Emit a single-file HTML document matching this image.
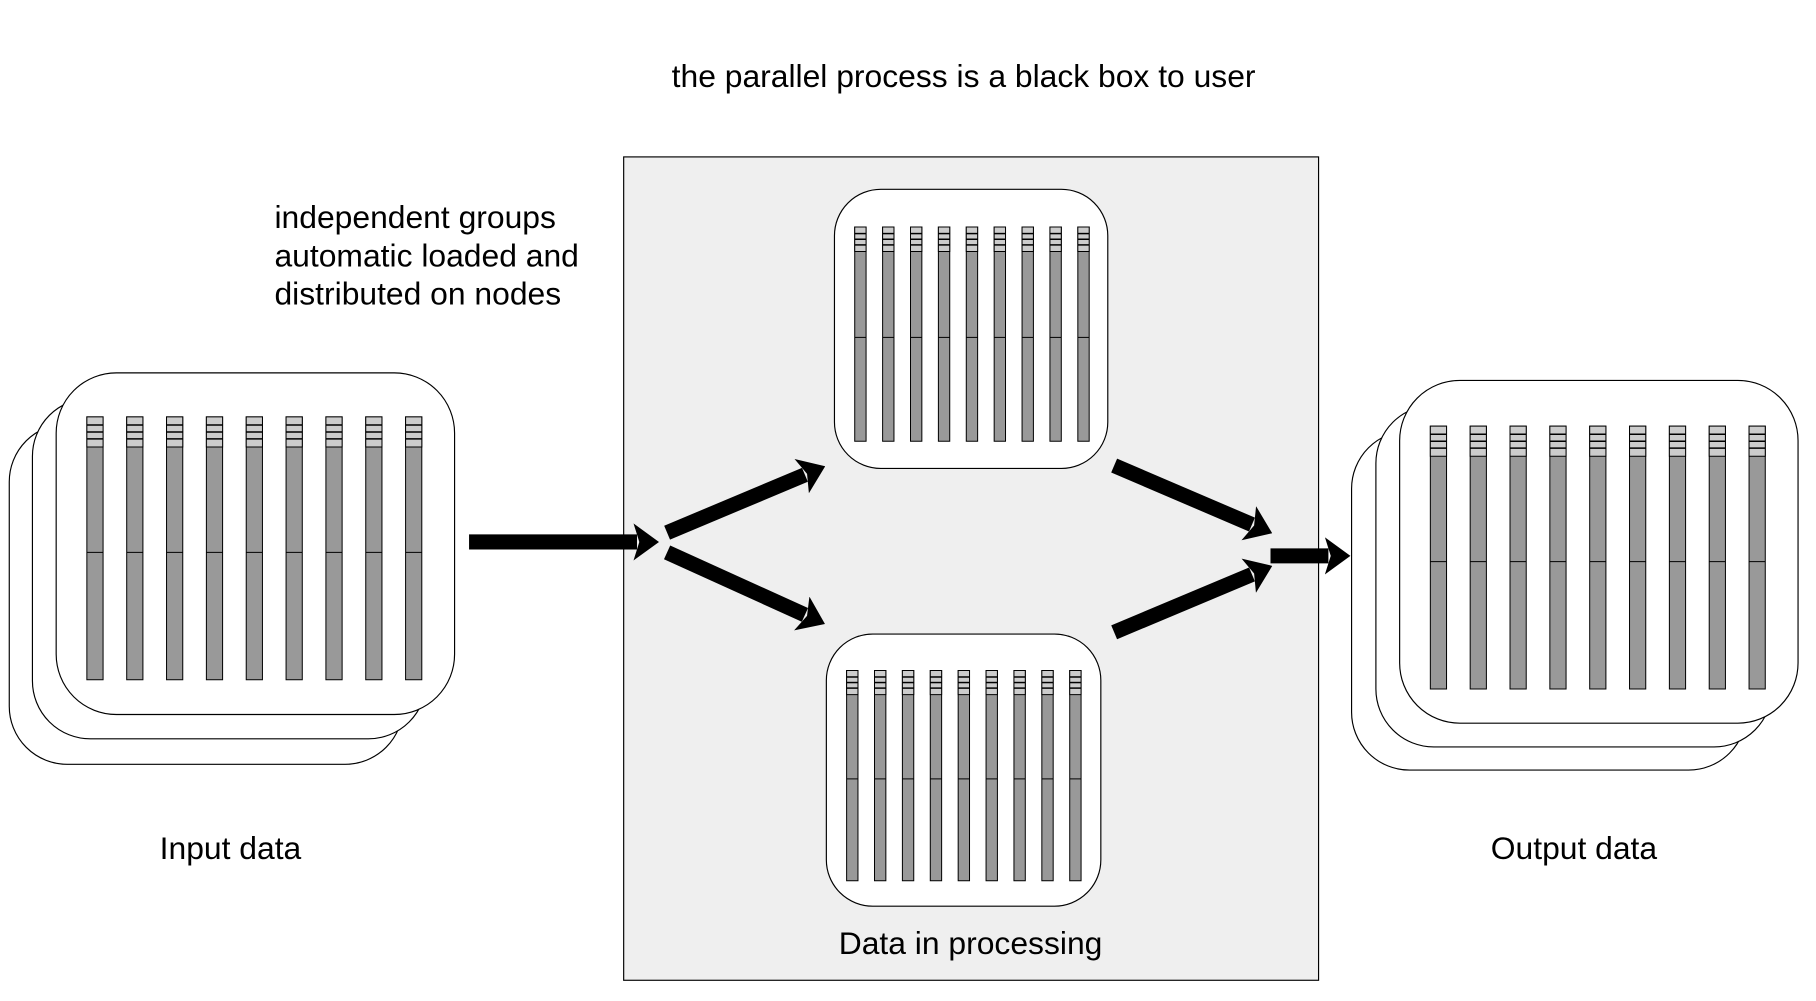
<!DOCTYPE html>
<html><head><meta charset="utf-8"><style>
html,body{margin:0;padding:0;background:#fff;}
svg{display:block;}
text{font-family:"Liberation Sans",Arial,sans-serif;fill:#000;}
</style></head><body>
<svg width="1816" height="1001" viewBox="0 0 1568 864.4" preserveAspectRatio="none" xmlns="http://www.w3.org/2000/svg">
<defs>
<g id="bar">
<rect x="0" y="0" width="14" height="227" fill="#999" stroke="#000" stroke-width="1" vector-effect="non-scaling-stroke"/>
<rect x="0" y="0" width="14" height="26" fill="#ccc" stroke="#000" stroke-width="1" vector-effect="non-scaling-stroke"/>
<line x1="0" y1="7" x2="14" y2="7" stroke="#000" stroke-width="1.5" vector-effect="non-scaling-stroke"/>
<line x1="0" y1="13" x2="14" y2="13" stroke="#000" stroke-width="1.5" vector-effect="non-scaling-stroke"/>
<line x1="0" y1="19" x2="14" y2="19" stroke="#000" stroke-width="1.5" vector-effect="non-scaling-stroke"/>
<line x1="0" y1="117" x2="14" y2="117" stroke="#000" stroke-width="1" vector-effect="non-scaling-stroke"/>
</g>
<g id="bars9">
<use href="#bar" x="0"/><use href="#bar" x="34.4"/><use href="#bar" x="68.8"/><use href="#bar" x="103.2"/><use href="#bar" x="137.6"/><use href="#bar" x="172"/><use href="#bar" x="206.4"/><use href="#bar" x="240.8"/><use href="#bar" x="275.2"/>
</g>
<marker id="ah" markerUnits="userSpaceOnUse" markerWidth="22" markerHeight="32" refX="3" refY="16" orient="auto" viewBox="0 0 22 32">
<path d="M0,0 L22,16 L0,32 L5,16 Z" fill="#000"/>
</marker>
</defs>

<text x="832" y="75" font-size="27.5" text-anchor="middle">the parallel process is a black box to user</text>
<text x="237" y="197" font-size="27.5">independent groups</text>
<text x="237" y="230" font-size="27.5">automatic loaded and</text>
<text x="237" y="263" font-size="27.5">distributed on nodes</text>

<rect x="538.5" y="135.5" width="600" height="711" fill="#efefef" stroke="#000" stroke-width="1"/>

<!-- input stack -->
<rect x="8" y="366" width="340" height="294" rx="50" fill="#fff" stroke="#000"/>
<rect x="28" y="344" width="340" height="294" rx="50" fill="#fff" stroke="#000"/>
<rect x="48.5" y="322" width="344" height="295" rx="52" fill="#fff" stroke="#000"/>
<use href="#bars9" transform="translate(75,360)"/>

<!-- output stack -->
<rect x="1167" y="372" width="341" height="293" rx="50" fill="#fff" stroke="#000"/>
<rect x="1188" y="350" width="342" height="295" rx="50" fill="#fff" stroke="#000"/>
<rect x="1208.5" y="328.5" width="344" height="296" rx="52" fill="#fff" stroke="#000"/>
<use href="#bars9" transform="translate(1235,368)"/>

<!-- inner boxes -->
<rect x="720.5" y="163.5" width="236" height="241" rx="40" fill="#fff" stroke="#000"/>
<use href="#bars9" transform="translate(738,196) scale(0.7,0.815)"/>
<rect x="713.5" y="547.5" width="237" height="235" rx="40" fill="#fff" stroke="#000"/>
<use href="#bars9" transform="translate(731,579) scale(0.7,0.8)"/>

<!-- arrows -->
<g stroke="#000" stroke-width="13" marker-end="url(#ah)">
<line x1="405" y1="468" x2="550" y2="468"/>
<line x1="576" y1="460" x2="695" y2="410"/>
<line x1="576" y1="477" x2="695" y2="531"/>
<line x1="962" y1="402" x2="1081" y2="453"/>
<line x1="962" y1="546" x2="1081" y2="496"/>
<line x1="1097" y1="480" x2="1147" y2="480"/>
</g>

<text x="199" y="742" font-size="27.5" text-anchor="middle">Input data</text>
<text x="1359" y="742" font-size="27.5" text-anchor="middle">Output data</text>
<text x="838" y="824" font-size="27.5" text-anchor="middle">Data in processing</text>
</svg>
</body></html>
